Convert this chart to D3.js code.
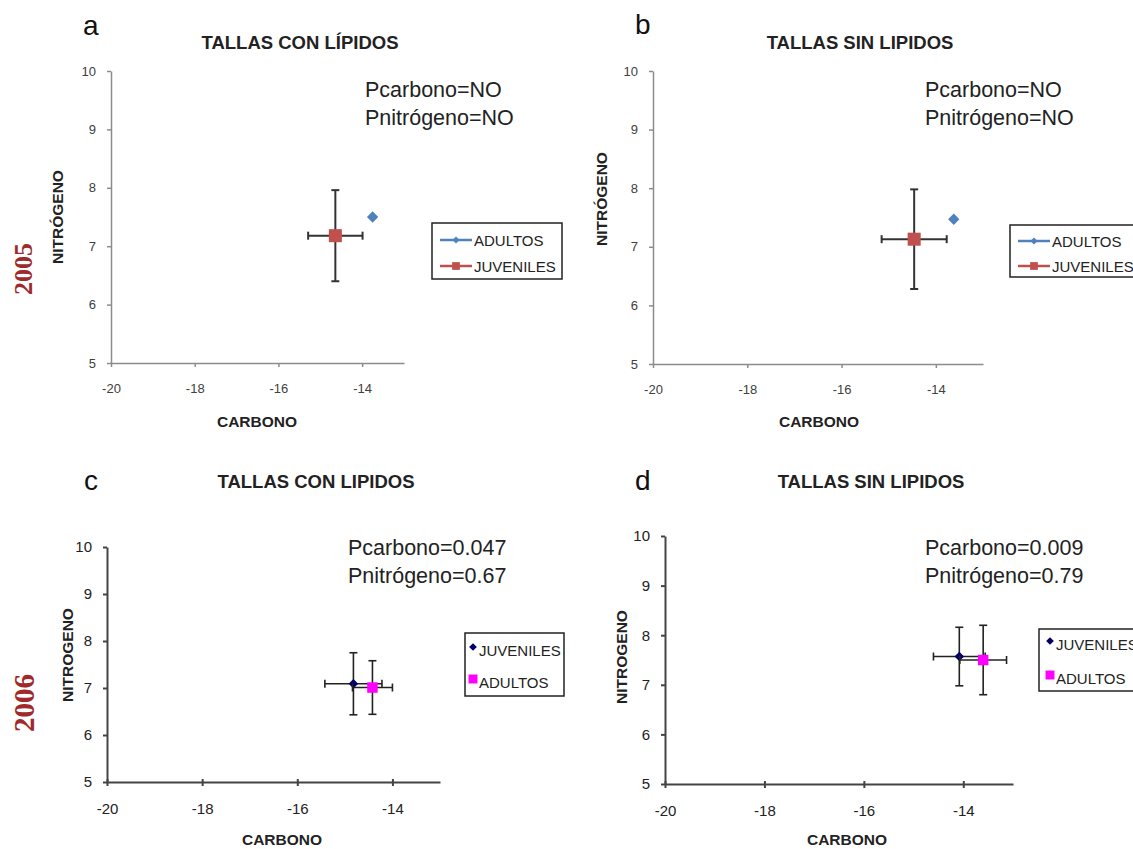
<!DOCTYPE html>
<html>
<head>
<meta charset="utf-8">
<script src="https://cdn.jsdelivr.net/npm/d3@7"></script>
<style>
body { margin: 0; background: #fff; }
text { font-family: "Liberation Sans", Arial, sans-serif; }
</style>
</head>
<body>
<div id="chart"></div>
<script>
// values (a, b = 2005; c, d = 2006)
var panelLetters = ["a", "b", "c", "d"];
var panelTitles = ["TALLAS CON LÍPIDOS", "TALLAS SIN LIPIDOS", "TALLAS CON LIPIDOS", "TALLAS SIN LIPIDOS"];
var yTitles = ["NITRÓGENO", "NITRÓGENO", "NITROGENO", "NITROGENO"];
var xTitle = "CARBONO";
var pCarbono = ["NO", "NO", "0.047", "0.009"];
var pNitrogeno = ["NO", "NO", "0.67", "0.79"];
var years = ["2005", "2006"];
var xTicks = [-20, -18, -16, -14];
var yTicks = [5, 6, 7, 8, 9, 10];
var xDomain = [-20, -13];
var yDomain = [5, 10];

var adultosC = [-13.75, -13.62, -14.42, -13.60];
var adultosN = [7.50, 7.47, 7.01, 7.50];
var adultosErrC = [0, 0, 0.42, 0.47];
var adultosErrN = [0, 0, 0.57, 0.70];
var juvenilesC = [-14.64, -14.46, -14.82, -14.08];
var juvenilesN = [7.18, 7.13, 7.09, 7.57];
var juvenilesErrC = [0.65, 0.69, 0.60, 0.52];
var juvenilesErrN = [0.78, 0.85, 0.66, 0.59];

var legend2005 = ["ADULTOS", "JUVENILES"];
var legend2006 = ["JUVENILES", "ADULTOS"];

var width = 1133,
    height = 849;

var svg = d3
    .select('#chart')
    .append('svg')
    .attr('width', width)
    .attr('height', height);

// where each panel sits on the page
var layout = [
    {xr: [111, 404], yr: [363, 71], letter: [83, 35], title: [300, 49], p: [365, 97], yt: [58, 217], xt: [257, 427],
     leg: [432, 223, 130, 56], rows: [240, 266], legX: 440, legOrder: legend2005, look: 'new'},
    {xr: [653, 983], yr: [364, 71], letter: [635, 34], title: [860, 49], p: [925, 97], yt: [602, 199], xt: [819, 427],
     leg: [1010, 225, 140, 52], rows: [241, 266], legX: 1018, legOrder: legend2005, look: 'new'},
    {xr: [107, 440], yr: [782, 547], letter: [84, 490], title: [316, 488], p: [348, 555], yt: [68, 655], xt: [282, 845],
     leg: [465, 633, 99, 63], rows: [650, 682], legX: 473, legOrder: legend2006, look: 'old'},
    {xr: [665, 1013], yr: [784, 536], letter: [635, 490], title: [871, 488], p: [925, 555], yt: [622, 657], xt: [847, 845],
     leg: [1039, 629, 110, 62], rows: [644, 678], legX: 1050, legOrder: legend2006, look: 'old'}
];

var looks = {
    new: {axis: '#8c8c8c', axisW: 1.5, tick: '#404040', tickSize: 13, err: '#333', errW: 2,
          ADULTOS: {color: '#4F81BD', shape: 'diamond', size: 64, legSize: 26},
          JUVENILES: {color: '#C0504D', shape: 'square', size: 170, legSize: 60}},
    old: {axis: '#444', axisW: 2, tick: '#222', tickSize: 15, err: '#222', errW: 1.6,
          JUVENILES: {color: '#000066', shape: 'diamond', size: 46, legSize: 30},
          ADULTOS: {color: '#FF00FF', shape: 'square', size: 110, legSize: 80}}
};

function marker(g, cx, cy, st, size) {
    g.append('path')
        .attr('d', d3.symbol().type(d3.symbolSquare).size(size)())
        .attr('transform', 'translate(' + cx + ',' + cy + ')' + (st.shape === 'diamond' ? ' rotate(45)' : ''))
        .attr('fill', st.color);
}

function errorBars(g, x, y, c, n, ec, en, look) {
    var col = look.err, w = look.errW, cap = 4;
    if (en > 0) {
        g.append('line').attr('x1', x(c)).attr('x2', x(c)).attr('y1', y(n - en)).attr('y2', y(n + en))
            .attr('stroke', col).attr('stroke-width', w);
        [n - en, n + en].forEach(function (v) {
            g.append('line').attr('x1', x(c) - cap).attr('x2', x(c) + cap).attr('y1', y(v)).attr('y2', y(v))
                .attr('stroke', col).attr('stroke-width', w);
        });
    }
    if (ec > 0) {
        g.append('line').attr('x1', x(c - ec)).attr('x2', x(c + ec)).attr('y1', y(n)).attr('y2', y(n))
            .attr('stroke', col).attr('stroke-width', w);
        [c - ec, c + ec].forEach(function (v) {
            g.append('line').attr('x1', x(v)).attr('x2', x(v)).attr('y1', y(n) - cap).attr('y2', y(n) + cap)
                .attr('stroke', col).attr('stroke-width', w);
        });
    }
}

var plain = function (d) { return String(d); };

function drawPanel(i) {
    var L = layout[i], look = looks[L.look];
    var g = svg.append('g');
    var x = d3.scaleLinear().domain(xDomain).range(L.xr);
    var y = d3.scaleLinear().domain(yDomain).range(L.yr);

    var xAxis = g.append('g')
        .attr('transform', 'translate(0,' + L.yr[0] + ')')
        .call(d3.axisBottom(x).tickValues(xTicks).tickFormat(plain).tickSize(4).tickSizeOuter(0).tickPadding(17));
    var yAxis = g.append('g')
        .attr('transform', 'translate(' + L.xr[0] + ',0)')
        .call(d3.axisLeft(y).tickValues(yTicks).tickFormat(plain).tickSize(4).tickSizeOuter(0).tickPadding(11));

    [xAxis, yAxis].forEach(function (a) {
        a.select('.domain').attr('stroke', look.axis).attr('stroke-width', look.axisW);
        a.selectAll('.tick line').attr('stroke', look.axis).attr('stroke-width', look.axisW);
        a.selectAll('.tick text')
            .attr('fill', look.tick)
            .style('font-size', look.tickSize + 'px')
            .style('font-family', '"Liberation Sans", Arial, sans-serif');
    });
    if (L.look === 'old') {
        xAxis.selectAll('.tick line').attr('y1', -3);
    }

    // panel letter and title
    g.append('text').attr('x', L.letter[0]).attr('y', L.letter[1])
        .style('font-size', '28px').attr('fill', '#111').text(panelLetters[i]);
    g.append('text').attr('x', L.title[0]).attr('y', L.title[1]).attr('text-anchor', 'middle')
        .style('font-size', '18.5px').style('font-weight', 'bold').attr('fill', '#222').text(panelTitles[i]);

    // axis titles
    g.append('text').attr('x', L.xt[0]).attr('y', L.xt[1]).attr('text-anchor', 'middle')
        .style('font-size', '15.5px').style('font-weight', 'bold').attr('fill', '#222').text(xTitle);
    g.append('text')
        .attr('transform', 'translate(' + (L.yt[0] + 5) + ',' + L.yt[1] + ') rotate(-90)')
        .attr('text-anchor', 'middle')
        .style('font-size', '15.5px').style('font-weight', 'bold').attr('fill', '#222').text(yTitles[i]);

    // p-values
    g.append('text').attr('x', L.p[0]).attr('y', L.p[1])
        .style('font-size', '21.5px').attr('fill', '#222').text('Pcarbono=' + pCarbono[i]);
    g.append('text').attr('x', L.p[0]).attr('y', L.p[1] + 28)
        .style('font-size', '21.5px').attr('fill', '#222').text('Pnitrógeno=' + pNitrogeno[i]);

    // series, drawn in legend order
    var series = {
        ADULTOS: {c: adultosC[i], n: adultosN[i], ec: adultosErrC[i], en: adultosErrN[i]},
        JUVENILES: {c: juvenilesC[i], n: juvenilesN[i], ec: juvenilesErrC[i], en: juvenilesErrN[i]}
    };
    L.legOrder.forEach(function (name) {
        var s = series[name];
        errorBars(g, x, y, s.c, s.n, s.ec, s.en, look);
        marker(g, x(s.c), y(s.n), look[name], look[name].size);
    });

    // legend
    g.append('rect').attr('x', L.leg[0]).attr('y', L.leg[1]).attr('width', L.leg[2]).attr('height', L.leg[3])
        .attr('fill', '#fff').attr('stroke', '#222').attr('stroke-width', 1.5);
    L.legOrder.forEach(function (name, k) {
        var st = look[name], ry = L.rows[k];
        var tx;
        if (L.look === 'new') {
            g.append('line').attr('x1', L.legX).attr('x2', L.legX + 32).attr('y1', ry).attr('y2', ry)
                .attr('stroke', st.color).attr('stroke-width', 2.5);
            marker(g, L.legX + 16, ry, st, st.legSize);
            tx = L.legX + 34;
        } else {
            marker(g, L.legX, ry - 3, st, st.legSize);
            tx = L.legX + 6;
        }
        g.append('text').attr('x', tx).attr('y', ry + 5.5)
            .style('font-size', '15px').attr('fill', '#222').text(name);
    });
}

for (var i = 0; i < 4; i++) drawPanel(i);

// year labels on the left
var yearPos = [[23, 269, 26], [25, 703, 29]];
years.forEach(function (yr, k) {
    svg.append('text')
        .attr('transform', 'translate(' + (yearPos[k][0] + 9) + ',' + yearPos[k][1] + ') rotate(-90)')
        .attr('text-anchor', 'middle')
        .style('font-family', '"Liberation Serif", "Times New Roman", serif')
        .style('font-weight', 'bold')
        .style('font-size', yearPos[k][2] + 'px')
        .attr('fill', '#9E2A2B')
        .text(yr);
});
</script>
</body>
</html>
